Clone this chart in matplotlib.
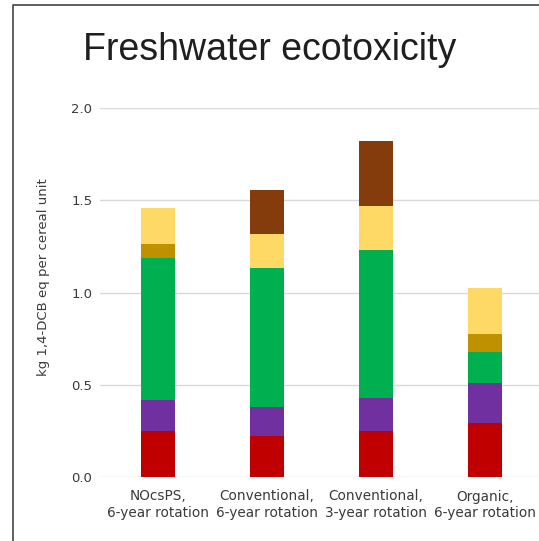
import matplotlib
matplotlib.use("Agg")
import matplotlib.pyplot as plt
from matplotlib.lines import Line2D

plt.rcParams['font.family'] = ['DejaVu Sans']

categories = ["NOcsPS,\n6-year rotation", "Conventional,\n6-year rotation",
              "Conventional,\n3-year rotation", "Organic,\n6-year rotation"]
seg_red = [0.25, 0.22, 0.25, 0.29]
seg_purple = [0.17, 0.16, 0.18, 0.22]
seg_green = [0.765, 0.755, 0.80, 0.165]
seg_gold = [0.08, 0.0, 0.0, 0.10]
seg_yellow = [0.195, 0.18, 0.24, 0.25]
seg_brown = [0.0, 0.24, 0.35, 0.0]
series = [seg_red, seg_purple, seg_green, seg_gold, seg_yellow, seg_brown]
colors = ["#C00000", "#7030A0", "#00B050", "#BF9000", "#FFD966", "#843C0C"]
yticks = [0.0, 0.5, 1.0, 1.5, 2.0]

fig = plt.figure(figsize=(5.39, 5.41), dpi=100)
ax = fig.add_axes([100/539, 1-477/541, 1-100/539, (477-108)/541])

x = list(range(len(categories)))
bottom = [0.0]*len(categories)
for vals, c in zip(series, colors):
    ax.bar(x, vals, width=0.312, bottom=bottom, color=c, zorder=3)
    bottom = [b+v for b, v in zip(bottom, vals)]

ax.set_xlim(-0.532, 3.495)
ax.set_ylim(0, 2.0)
ax.set_yticks(yticks)
ax.set_yticklabels([f"{t:.1f}" for t in yticks])
ax.set_xticks(x)
ax.set_xticklabels(categories, fontsize=9.8, color="#3a3a3a", linespacing=1.2)
ax.tick_params(axis='y', length=0, pad=5.5, labelsize=9.5, labelcolor="#3a3a3a")
ax.tick_params(axis='x', length=0, pad=9)
ax.grid(axis='y', color="#d9d9d9", linewidth=1, zorder=0)
for s in ax.spines.values():
    s.set_visible(False)
ax.set_ylabel("kg 1,4-DCB eq per cereal unit", fontsize=9.5, color="#3a3a3a")
ax.yaxis.set_label_coords(-0.114, 0.542)

fig.text(270/539, 1-50/541, "Freshwater ecotoxicity", fontsize=27, color="#1f1f1f",
         ha="center", va="center", family=['Liberation Sans', 'DejaVu Sans'])

fig.add_artist(Line2D([13/539, 13/539, 1.0], [0.0, 1-5/541, 1-5/541],
                      transform=fig.transFigure, color="#444444", linewidth=1.2))

fig.savefig("out.png", dpi=100)
